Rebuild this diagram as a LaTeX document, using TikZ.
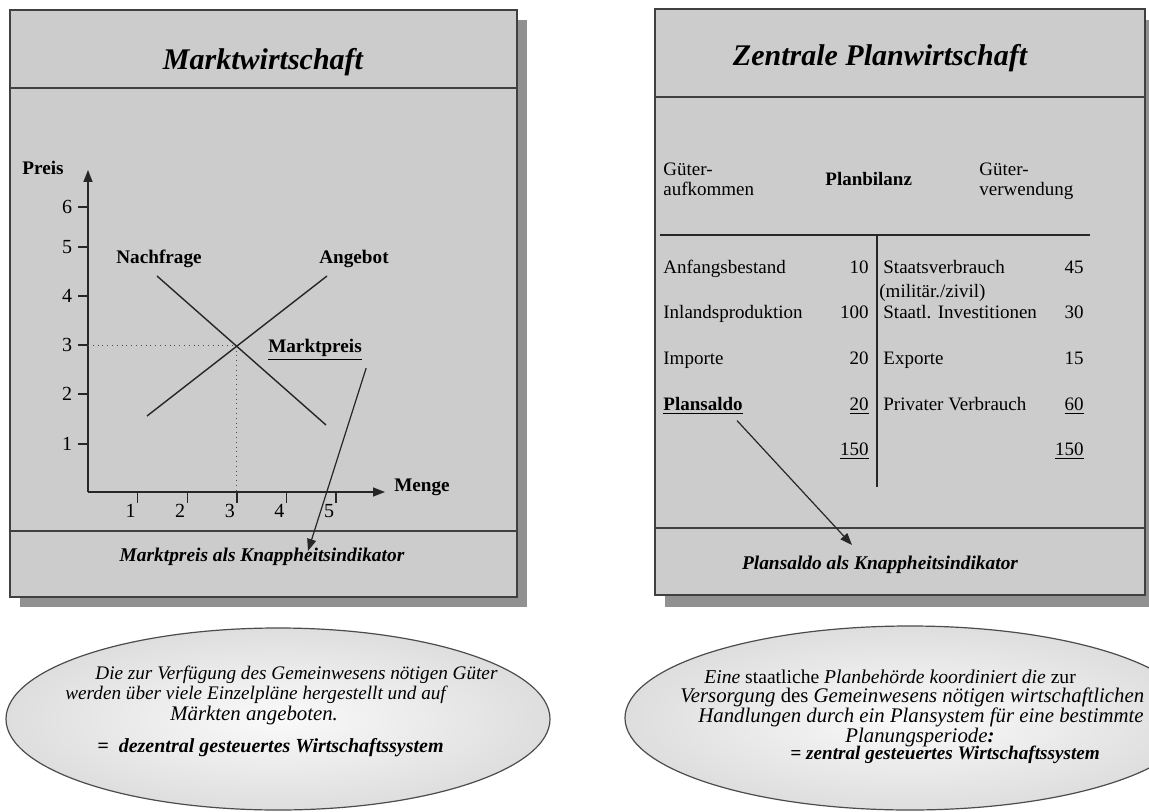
\documentclass[tikz,border=0pt]{standalone}
\usepackage{fontspec}
\setmainfont{Liberation Serif}
\usetikzlibrary{arrows.meta}

\definecolor{panelgray}{gray}{0.80}
\definecolor{bodylight}{gray}{0.95}
\definecolor{shadowgray}{gray}{0.57}

\tikzset{
	panel/.style={draw=black!75, line width=0.6pt},
	curve/.style={black!85, line width=0.7pt},
	arr/.style={black!85, line width=0.6pt, -{Triangle[length=6pt,width=4.5pt]}},
	title/.style={font=\fontsize{15}{18}\selectfont\bfseries\itshape},
	foot/.style={font=\fontsize{9.7}{12}\selectfont\bfseries\itshape},
	lbl/.style={font=\fontsize{9.6}{12}\selectfont\bfseries},
	num/.style={font=\fontsize{10}{12}\selectfont, inner sep=1pt},
	cell/.style={font=\fontsize{9.5}{10}\selectfont, inner sep=0pt, text height=1.6ex, text depth=0.4ex},
	bub/.style={font=\fontsize{#1}{10}\selectfont\itshape, inner sep=0pt, anchor=west},
	bub/.default=10,
	bubbold/.style={font=\fontsize{#1}{10}\selectfont\bfseries\itshape, inner sep=0pt, anchor=west},
	bubbold/.default=10,
}

\begin{document}
\begin{tikzpicture}[x=0.5pt, y=-0.5pt]
	\useasboundingbox (0,0) rectangle (1149,812);

	% Shadows
	\fill[shadowgray] (20,20) rectangle (527,607);
	\fill[shadowgray] (665,20) rectangle (1155,607);

	% Left panel
	\fill[panelgray] (10,10) rectangle (517,88);
	\shade[top color=panelgray, middle color=bodylight, bottom color=panelgray] (10,88) rectangle (517,531);
	\fill[panelgray] (10,531) rectangle (517,597);
	\draw[panel] (10,10) rectangle (517,597);
	\draw[panel] (10,88) -- (517,88);
	\draw[panel] (10,531) -- (517,531);

	% Right panel
	\fill[panelgray] (655,9) rectangle (1145,97);
	\shade[top color=panelgray, middle color=bodylight, bottom color=panelgray] (655,97) rectangle (1145,528);
	\fill[panelgray] (655,528) rectangle (1145,595);
	\draw[panel] (655,9) rectangle (1145,595);
	\draw[panel] (655,97) -- (1145,97);
	\draw[panel] (655,528) -- (1145,528);

	% Titles
	\node[title] (mwtitle) at (263,62) {Marktwirtschaft};
	\node[title] (pwtitle) at (880,58) {Zentrale Planwirtschaft};

	% Chart
	\coordinate (origin) at (88,492);
	\coordinate (ytop) at (88,170);
	\coordinate (xend) at (385,492);
	\draw[arr, line width=0.7pt] (origin) -- (ytop);
	\draw[arr, line width=0.7pt] (origin) -- (xend);
	\node[lbl] (preis) at (43,168) {Preis};
	\node[lbl] (menge) at (422,487) {Menge};

	\foreach \n/\ty in {1/444,2/394,3/345,4/296,5/247,6/207}{
		\draw[curve] (78,\ty) -- (88,\ty);
		\node[num] (ylab \n) at (67,\ty) {\n};
	}
	\foreach \n in {1,...,5}{
		\pgfmathsetmacro{\tx}{88+\n*49.6}
		\draw[curve] (\tx,493) -- (\tx,503);
		\node[num] (xlab \n) at (\tx-7,511) {\n};
	}

	\draw[black!70, thin, dotted] (88,345) -- (236,345) -- (236,492);
	\draw[curve] (157,276) -- (326,425);
	\draw[curve] (147,416) -- (327,276);

	\node[lbl] (nachfrage) at (159,259) {Nachfrage};
	\node[lbl] (angebot) at (354,259) {Angebot};
	\node[lbl, inner sep=1pt] (mp) at (315,350) {\underline{Marktpreis}};

	\node[foot] (mwfoot) at (262,557) {Marktpreis als Knappheitsindikator};
	\coordinate (mptip) at (308,551);
	\draw[arr] ([shift={(2,5)}]mp.south east) -- (mptip);

	% Planbilanz
	\node[cell, align=left, anchor=west] (aufk) at (663,190) {Güter-\\aufkommen};
	\node[cell, anchor=west, font=\fontsize{9.5}{10}\selectfont\bfseries] (bilanz) at (825,180) {Planbilanz};
	\node[cell, align=left, anchor=west] (verw) at (979,190) {Güter-\\verwendung};
	\draw[curve] (660,235) -- (1090,235);
	\draw[curve] (877,235) -- (877,487);

	\foreach \lab/\lv/\rlab/\rv/\ry [count=\i] in {
		Anfangsbestand/10/Staatsverbrauch/45/268,
		Inlandsproduktion/100/Staatl. Investitionen/30/313,
		Importe/20/Exporte/15/359,
		{\textbf{\underline{Plansaldo}}}/{\underline{20}}/Privater Verbrauch/{\underline{60}}/405}{
		\node[cell, anchor=west] (auf \i) at (663,\ry) {\lab};
		\node[cell, anchor=east] (aufv \i) at (869,\ry) {\lv};
		\node[cell, anchor=west] (ver \i) at (883,\ry) {\rlab};
		\node[cell, anchor=east] (verv \i) at (1084,\ry) {\rv};
	}
	\node[cell, anchor=west] (zivil) at (879,292) {(militär./zivil)};
	\node[cell, anchor=east] (aufsum) at (869,450) {\underline{150}};
	\node[cell, anchor=east] (versum) at (1084,450) {\underline{150}};

	\node[foot] (pwfoot) at (880,565) {Plansaldo als Knappheitsindikator};
	\coordinate (pstip) at (852,545);
	\draw[arr] ([shift={(-6,6)}]auf 4.south east) -- (pstip);

	% Ellipses
	\shade[inner color=black!2, outer color=black!13, draw=black!70, line width=0.6pt]
		(278,719) ellipse [x radius=272, y radius=91];
	\shade[inner color=black!2, outer color=black!13, draw=black!70, line width=0.6pt]
		(910,718) ellipse [x radius=285, y radius=92];

	\node[bub=9.6] (dz 1) at (95,675) {Die zur Verfügung des Gemeinwesens nötigen Güter};
	\node[bub=9.6] (dz 2) at (65,695) {werden über viele Einzelpläne hergestellt und auf};
	\node[bub=10.4] (dz 3) at (170,715) {Märkten angeboten.};
	\node[bubbold] (dz 4) at (97,748) {=~ dezentral gesteuertes Wirtschaftssystem};

	\node[bub=9.8] (z 1) at (704,677) {Eine \textup{staatliche} Planbehörde koordiniert die \textup{zur}};
	\node[bub=10.4] (z 2) at (680,697) {Versorgung \textup{des} Gemeinwesens nötigen wirtschaftlichen};
	\node[bub=10.4] (z 3) at (698,717) {Handlungen durch ein Plansystem für eine bestimmte};
	\node[bub=10.4] (z 4) at (845,737) {Planungsperiode\textbf{:}};
	\node[bubbold=9.6] (z 5) at (790,755) {= zentral gesteuertes Wirtschaftssystem};

\end{tikzpicture}
\end{document}
